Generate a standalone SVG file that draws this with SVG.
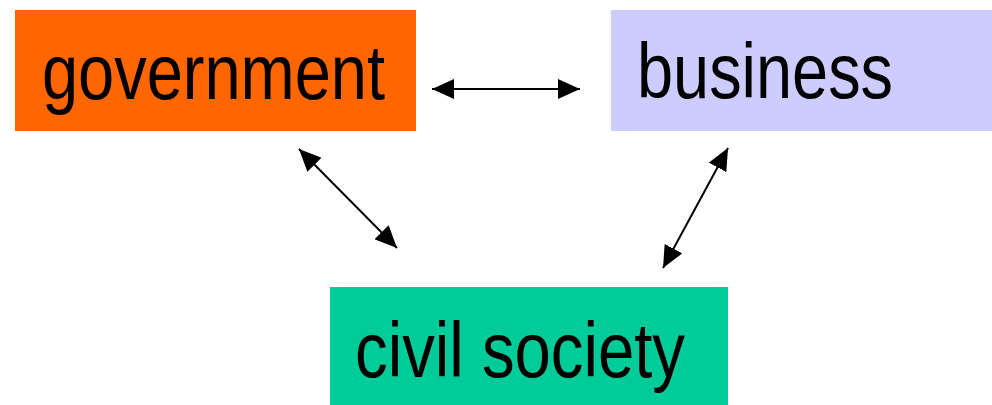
<svg xmlns="http://www.w3.org/2000/svg" width="992" height="405" viewBox="0 0 992 405">
  <style>
    .lbl { font-family: "Liberation Sans", Arial, sans-serif; font-size: 78px; fill: #000000; }
    .conn { stroke: #000000; stroke-width: 2; fill: none; marker-start: url(#ah); marker-end: url(#ah); }
  </style>
  <defs>
    <marker id="ah" viewBox="0 0 22 20" markerWidth="22" markerHeight="20" refX="22" refY="10" orient="auto-start-reverse" markerUnits="userSpaceOnUse">
      <path d="M0,0 L22,10 L0,20 Z" fill="#000000"/>
    </marker>
  </defs>
  <rect x="0" y="0" width="992" height="405" fill="#ffffff"/>
  <g id="government">
    <rect x="15" y="10" width="401" height="121" fill="#FF6600"/>
    <text class="lbl" x="42" y="99" textLength="343" lengthAdjust="spacingAndGlyphs">government</text>
  </g>
  <g id="business">
    <rect x="611" y="10" width="381" height="121" fill="#CCCCFF"/>
    <text class="lbl" x="637" y="98" textLength="256" lengthAdjust="spacingAndGlyphs">business</text>
  </g>
  <g id="civil-society">
    <rect x="330" y="287" width="398" height="118" fill="#00CC99"/>
    <text class="lbl" x="355" y="377" textLength="330" lengthAdjust="spacingAndGlyphs">civil society</text>
  </g>
  <g id="connectors">
    <line class="conn" x1="432" y1="89" x2="580" y2="89"/>
    <line class="conn" x1="299" y1="149" x2="397" y2="248"/>
    <line class="conn" x1="728" y1="148" x2="663" y2="268"/>
  </g>
</svg>
